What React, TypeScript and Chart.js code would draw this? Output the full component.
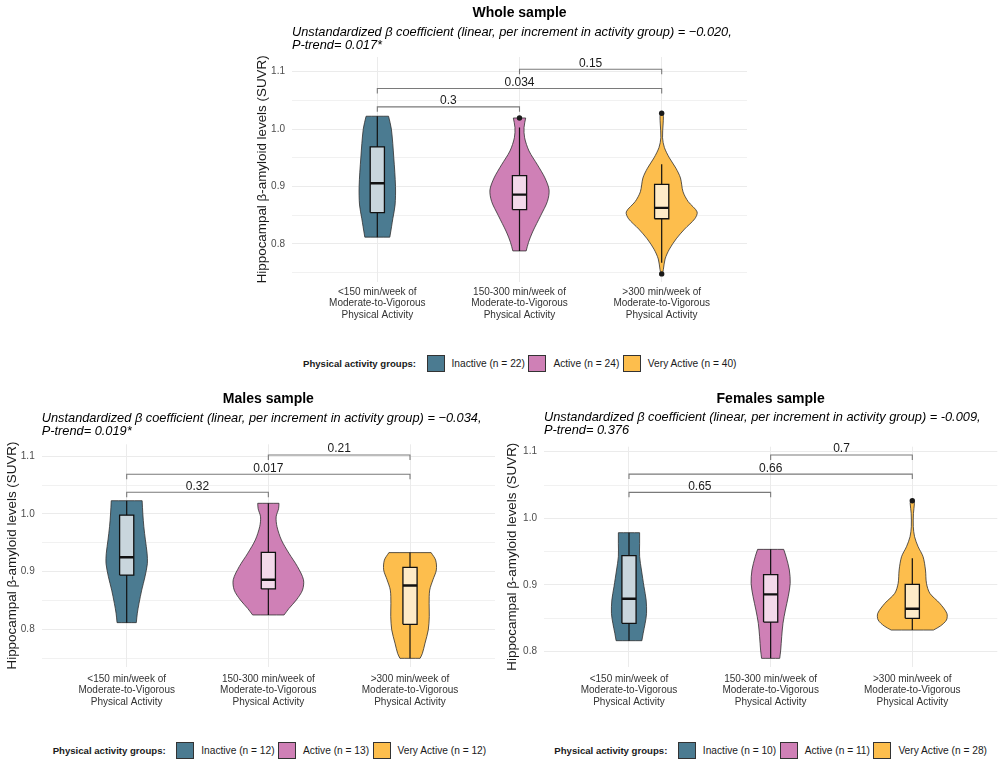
import React, { Fragment, useEffect, useRef } from 'react';
import { Chart, registerables } from 'chart.js';

Chart.register(...registerables);

const FONT = '"Liberation Sans", Arial, Helvetica, sans-serif';

// ---- shared categories, groups and axis ticks ----
const categoryPositions = [1, 2, 3];
const categoryLabels = [
  ['<150 min/week of', 'Moderate-to-Vigorous', 'Physical Activity'],
  ['150-300 min/week of', 'Moderate-to-Vigorous', 'Physical Activity'],
  ['>300 min/week of', 'Moderate-to-Vigorous', 'Physical Activity'],
];
const groupNames = ['Inactive', 'Active', 'Very Active'];
const groupFills = ['#4b7b91', '#cf80b6', '#fdbe4d'];
const boxFills = ['#c9d6dd', '#f3d9ea', '#feebc8'];

const yTickValues = [0.8, 0.9, 1.0, 1.1];
const yTickLabels = ['0.8', '0.9', '1.0', '1.1'];
const yMinorValues = [0.75, 0.85, 0.95, 1.05];
const yAxisTitle = 'Hippocampal β-amyloid levels (SUVR)';

const bracketPairs = [
  [1, 2],
  [1, 3],
  [2, 3],
];

// ---- Whole sample ----
const wholeCounts = [22, 24, 40];
const wholeInactiveLevels = [0.812, 0.83, 0.844, 0.868, 0.9, 0.95, 1.0, 1.0225];
const wholeInactiveWidths = [0.088, 0.1, 0.109, 0.125, 0.128, 0.116, 0.099, 0.079];
const wholeActiveLevels = [0.788, 0.803, 0.821, 0.85, 0.874, 0.894, 0.915, 0.938, 0.962, 0.985, 1.003, 1.0194];
const wholeActiveWidths = [0.047, 0.0635, 0.092, 0.15, 0.196, 0.208, 0.179, 0.126, 0.067, 0.036, 0.032, 0.0435];
const wholeVeryLevels = [0.748, 0.756, 0.774, 0.791, 0.809, 0.826, 0.844, 0.856, 0.874, 0.891, 0.915, 0.932, 0.95, 0.968, 0.985, 1.009, 1.022, 1.0276];
const wholeVeryWidths = [0.006, 0.012, 0.024, 0.054, 0.102, 0.161, 0.233, 0.249, 0.186, 0.15, 0.132, 0.1, 0.054, 0.019, 0.006, 0.01, 0.012, 0.008];
const wholeQ1 = [0.8547, 0.86, 0.844];
const wholeMedian = [0.9059, 0.886, 0.863];
const wholeQ3 = [0.969, 0.919, 0.904];
const wholeLow = [0.812, 0.788, 0.7676];
const wholeHigh = [1.0225, 1.003, 0.939];
const wholeOutlierGroups = [2, 3, 3];
const wholeOutlierValues = [1.0194, 1.0276, 0.748];
const wholeBracketLevels = [1.0388, 1.0708, 1.1043];
const wholeBracketLabels = ['0.3', '0.034', '0.15'];

// ---- Males sample ----
const malesCounts = [12, 13, 12];
const malesInactiveLevels = [0.8116, 0.828, 0.845, 0.868, 0.891, 0.914, 0.932, 0.955, 0.978, 1.0, 1.023];
const malesInactiveWidths = [0.068, 0.075, 0.087, 0.106, 0.129, 0.146, 0.144, 0.132, 0.121, 0.114, 0.109];
const malesActiveLevels = [0.8249, 0.836, 0.851, 0.868, 0.886, 0.909, 0.932, 0.955, 0.978, 0.995, 1.009, 1.0185];
const malesActiveWidths = [0.111, 0.145, 0.198, 0.241, 0.248, 0.205, 0.145, 0.092, 0.061, 0.055, 0.072, 0.075];
const malesVeryLevels = [0.7497, 0.758, 0.776, 0.799, 0.822, 0.845, 0.868, 0.886, 0.903, 0.92, 0.933];
const malesVeryWidths = [0.071, 0.087, 0.106, 0.129, 0.136, 0.135, 0.139, 0.162, 0.186, 0.181, 0.149];
const malesQ1 = [0.894, 0.87, 0.8087];
const malesMedian = [0.925, 0.886, 0.876];
const malesQ3 = [0.998, 0.9335, 0.9075];
const malesLow = [0.8116, 0.8249, 0.7497];
const malesHigh = [1.023, 1.0185, 0.933];
const malesOutlierGroups: number[] = [];
const malesOutlierValues: number[] = [];
const malesBracketLevels = [1.0376, 1.0688, 1.1023];
const malesBracketLabels = ['0.32', '0.017', '0.21'];

// ---- Females sample ----
const femalesCounts = [10, 11, 28];
const femalesInactiveLevels = [0.8165, 0.8275, 0.8425, 0.8575, 0.8775, 0.8975, 0.9225, 0.9425, 0.9625, 0.9785];
const femalesInactiveWidths = [0.091, 0.1, 0.114, 0.124, 0.121, 0.106, 0.088, 0.075, 0.075, 0.075];
const femalesActiveLevels = [0.79, 0.8025, 0.8225, 0.8425, 0.8625, 0.8825, 0.9025, 0.9225, 0.9425, 0.9535];
const femalesActiveWidths = [0.064, 0.071, 0.078, 0.087, 0.104, 0.124, 0.138, 0.132, 0.109, 0.092];
const femalesVeryLevels = [0.8325, 0.8385, 0.8475, 0.8575, 0.8725, 0.8875, 0.9025, 0.9225, 0.9425, 0.9575, 0.9725, 0.9875, 1.0075, 1.0225, 1.0265];
const femalesVeryWidths = [0.149, 0.198, 0.241, 0.244, 0.194, 0.124, 0.1, 0.093, 0.076, 0.041, 0.016, 0.007, 0.008, 0.015, 0.01];
const femalesQ1 = [0.8425, 0.8445, 0.85];
const femalesMedian = [0.8795, 0.886, 0.8645];
const femalesQ3 = [0.944, 0.9155, 0.901];
const femalesLow = [0.8165, 0.79, 0.8325];
const femalesHigh = [0.9785, 0.9535, 0.94];
const femalesOutlierGroups = [3];
const femalesOutlierValues = [1.0265];
const femalesBracketLevels = [1.039, 1.0664, 1.095];
const femalesBracketLabels = ['0.65', '0.66', '0.7'];

const BOX_HALF_WIDTH = 0.05;

type Frame = {
  left: number;
  top: number;
  width: number;
  height: number;
  yAxisWidth: number;
  xAxisHeight: number;
  padRight: number;
  padTop: number;
  xLabelPad: number;
  titleY: number;
  subtitleY: number;
};

type PanelSpec = {
  title: string;
  subtitle: string[];
  levels: number[][];
  widths: number[][];
  q1: number[];
  median: number[];
  q3: number[];
  low: number[];
  high: number[];
  outlierGroups: number[];
  outlierValues: number[];
  bracketLevels: number[];
  bracketLabels: string[];
  tip: number;
  yMin: number;
  yMax: number;
  frame: Frame;
};

const wholeSpec: PanelSpec = {
  title: 'Whole sample',
  subtitle: [
    'Unstandardized β coefficient (linear, per increment in activity group) = −0.020,',
    'P-trend= 0.017*',
  ],
  levels: [wholeInactiveLevels, wholeActiveLevels, wholeVeryLevels],
  widths: [wholeInactiveWidths, wholeActiveWidths, wholeVeryWidths],
  q1: wholeQ1,
  median: wholeMedian,
  q3: wholeQ3,
  low: wholeLow,
  high: wholeHigh,
  outlierGroups: wholeOutlierGroups,
  outlierValues: wholeOutlierValues,
  bracketLevels: wholeBracketLevels,
  bracketLabels: wholeBracketLabels,
  tip: 0.0087,
  yMin: 0.7344,
  yMax: 1.1256,
  frame: { left: 250, top: 0, width: 520, height: 335, yAxisWidth: 42, xAxisHeight: 53.3, padRight: 23, padTop: 57, xLabelPad: 5, titleY: 16.7, subtitleY: 36 },
};

const malesSpec: PanelSpec = {
  title: 'Males sample',
  subtitle: [
    'Unstandardized β coefficient (linear, per increment in activity group) = −0.034,',
    'P-trend= 0.019*',
  ],
  levels: [malesInactiveLevels, malesActiveLevels, malesVeryLevels],
  widths: [malesInactiveWidths, malesActiveWidths, malesVeryWidths],
  q1: malesQ1,
  median: malesMedian,
  q3: malesQ3,
  low: malesLow,
  high: malesHigh,
  outlierGroups: malesOutlierGroups,
  outlierValues: malesOutlierValues,
  bracketLevels: malesBracketLevels,
  bracketLabels: malesBracketLabels,
  tip: 0.0087,
  yMin: 0.7352,
  yMax: 1.1208,
  frame: { left: 0, top: 385, width: 500, height: 335, yAxisWidth: 41.7, xAxisHeight: 53.3, padRight: 5, padTop: 59.3, xLabelPad: 7, titleY: 18.3, subtitleY: 36.7 },
};

const femalesSpec: PanelSpec = {
  title: 'Females sample',
  subtitle: [
    'Unstandardized β coefficient (linear, per increment in activity group) = -0.009,',
    'P-trend= 0.376',
  ],
  levels: [femalesInactiveLevels, femalesActiveLevels, femalesVeryLevels],
  widths: [femalesInactiveWidths, femalesActiveWidths, femalesVeryWidths],
  q1: femalesQ1,
  median: femalesMedian,
  q3: femalesQ3,
  low: femalesLow,
  high: femalesHigh,
  outlierGroups: femalesOutlierGroups,
  outlierValues: femalesOutlierValues,
  bracketLevels: femalesBracketLevels,
  bracketLabels: femalesBracketLabels,
  tip: 0.0075,
  yMin: 0.7775,
  yMax: 1.1075,
  frame: { left: 500, top: 385, width: 504, height: 335, yAxisWidth: 44, xAxisHeight: 53.3, padRight: 6.7, padTop: 61.7, xLabelPad: 7, titleY: 18.3, subtitleY: 36 },
};

// Closed violin outline: left edge bottom->top, flat cap, right edge top->bottom, flat base.
// Every corner point is doubled so the smoothed outline keeps sharp cap corners.
function violinOutline(center: number, levels: number[], widths: number[]) {
  const n = levels.length;
  const pts: { x: number; y: number }[] = [];
  for (let i = 0; i < n; i++) pts.push({ x: center - widths[i], y: levels[i] });
  pts.push({ x: center - widths[n - 1], y: levels[n - 1] });
  pts.push({ x: center + widths[n - 1], y: levels[n - 1] });
  for (let i = n - 1; i >= 0; i--) pts.push({ x: center + widths[i], y: levels[i] });
  pts.push({ x: center + widths[0], y: levels[0] });
  pts.push({ x: center - widths[0], y: levels[0] });
  return pts;
}

function buildDatasets(spec: PanelSpec) {
  const datasets: any[] = [];
  categoryPositions.forEach((c, g) => {
    datasets.push({
      data: violinOutline(c, spec.levels[g], spec.widths[g]),
      showLine: true,
      fill: 'shape',
      backgroundColor: groupFills[g],
      borderColor: '#2e2e2e',
      borderWidth: 0.8,
      tension: 0.3,
      pointRadius: 0,
      order: 6,
    });
    datasets.push({
      data: [
        { x: c, y: spec.low[g] },
        { x: c, y: spec.high[g] },
      ],
      showLine: true,
      fill: false,
      borderColor: '#111111',
      borderWidth: 1.2,
      pointRadius: 0,
      order: 5,
    });
    const l = c - BOX_HALF_WIDTH;
    const r = c + BOX_HALF_WIDTH;
    datasets.push({
      data: [
        { x: l, y: spec.q1[g] },
        { x: r, y: spec.q1[g] },
        { x: r, y: spec.q3[g] },
        { x: l, y: spec.q3[g] },
        { x: l, y: spec.q1[g] },
      ],
      showLine: true,
      fill: 'shape',
      backgroundColor: boxFills[g],
      borderColor: '#111111',
      borderWidth: 1.3,
      borderJoinStyle: 'miter',
      tension: 0,
      pointRadius: 0,
      order: 4,
    });
    datasets.push({
      data: [
        { x: l, y: spec.median[g] },
        { x: r, y: spec.median[g] },
      ],
      showLine: true,
      fill: false,
      borderColor: '#111111',
      borderWidth: 2.4,
      pointRadius: 0,
      order: 3,
    });
  });
  if (spec.outlierGroups.length) {
    datasets.push({
      data: spec.outlierGroups.map((g, i) => ({ x: g, y: spec.outlierValues[i] })),
      showLine: false,
      pointRadius: 2.7,
      pointBackgroundColor: '#1a1a1a',
      pointBorderColor: '#1a1a1a',
      pointBorderWidth: 0,
      order: 2,
    });
  }
  bracketPairs.forEach(([a, b], i) => {
    const lv = spec.bracketLevels[i];
    datasets.push({
      data: [
        { x: a, y: lv - spec.tip },
        { x: a, y: lv },
        { x: b, y: lv },
        { x: b, y: lv - spec.tip },
      ],
      showLine: true,
      fill: false,
      borderColor: '#7a7a7a',
      borderWidth: 1.1,
      tension: 0,
      pointRadius: 0,
      order: 1,
    });
  });
  return datasets;
}

function buildConfig(spec: PanelSpec): any {
  const f = spec.frame;
  const textPlugin = {
    id: 'panelText',
    afterDatasetsDraw(chart: any) {
      const { ctx, chartArea, scales } = chart;
      ctx.save();
      ctx.fillStyle = '#1a1a1a';
      ctx.textBaseline = 'alphabetic';
      // p-value labels above each bracket
      ctx.font = `12px ${FONT}`;
      ctx.textAlign = 'center';
      bracketPairs.forEach(([a, b], i) => {
        const x = scales.x.getPixelForValue((a + b) / 2);
        const y = scales.y.getPixelForValue(spec.bracketLevels[i]) - 2.6;
        ctx.fillText(spec.bracketLabels[i], x, y);
      });
      // panel title and subtitle
      ctx.fillStyle = '#000000';
      ctx.font = `bold 14px ${FONT}`;
      ctx.fillText(spec.title, (chartArea.left + chartArea.right) / 2, f.titleY);
      ctx.font = `italic 12.8px ${FONT}`;
      ctx.textAlign = 'left';
      spec.subtitle.forEach((line, i) => {
        ctx.fillText(line, chartArea.left, f.subtitleY + i * 13.3);
      });
      ctx.restore();
    },
  };

  const gridValues = [...yMinorValues, ...yTickValues]
    .filter((v) => v >= spec.yMin && v <= spec.yMax)
    .sort((a, b) => a - b);

  return {
    type: 'scatter',
    data: { datasets: buildDatasets(spec) },
    plugins: [textPlugin],
    options: {
      responsive: false,
      animation: false,
      events: [],
      layout: { padding: { left: 0, right: f.padRight, top: f.padTop, bottom: 0 } },
      plugins: {
        legend: { display: false },
        tooltip: { enabled: false },
        title: { display: false },
      },
      scales: {
        x: {
          type: 'linear',
          min: 0.4,
          max: 3.6,
          afterBuildTicks: (axis: any) => {
            axis.ticks = categoryPositions.map((v) => ({ value: v }));
          },
          afterFit: (axis: any) => {
            axis.height = f.xAxisHeight;
          },
          ticks: {
            callback: (v: number) => categoryLabels[categoryPositions.indexOf(v)] ?? '',
            font: { family: FONT, size: 10, lineHeight: 1.13 },
            color: '#333333',
            padding: f.xLabelPad,
            maxRotation: 0,
            minRotation: 0,
            autoSkip: false,
          },
          grid: { color: '#ebebeb', lineWidth: 1, drawTicks: false },
          border: { display: false },
        },
        y: {
          type: 'linear',
          min: spec.yMin,
          max: spec.yMax,
          afterBuildTicks: (axis: any) => {
            axis.ticks = gridValues.map((v) => ({ value: v }));
          },
          afterFit: (axis: any) => {
            axis.width = f.yAxisWidth;
          },
          ticks: {
            callback: (v: number) => {
              const i = yTickValues.findIndex((t) => Math.abs(t - v) < 1e-9);
              return i >= 0 ? yTickLabels[i] : '';
            },
            font: { family: FONT, size: 10 },
            color: '#4d4d4d',
            padding: 7,
            autoSkip: false,
          },
          grid: {
            color: '#ebebeb',
            lineWidth: (c: any) =>
              c.tick && yTickValues.some((t) => Math.abs(t - c.tick.value) < 1e-9) ? 1.1 : 0.7,
            drawTicks: false,
          },
          border: { display: false },
          title: {
            display: true,
            text: yAxisTitle,
            font: { family: FONT, size: 13.4 },
            color: '#1a1a1a',
            padding: { top: 3.8, bottom: 0 },
          },
        },
      },
    },
  };
}

function Panel({ spec }: { spec: PanelSpec }) {
  const ref = useRef<HTMLCanvasElement>(null);
  useEffect(() => {
    if (!ref.current) return;
    const chart = new Chart(ref.current, buildConfig(spec));
    return () => chart.destroy();
  }, [spec]);
  const f = spec.frame;
  return (
    <canvas
      ref={ref}
      width={f.width}
      height={f.height}
      style={{ position: 'absolute', left: f.left, top: f.top, width: f.width, height: f.height, display: 'block' }}
    />
  );
}

function GroupLegend({ left, top, counts }: { left: number; top: number; counts: number[] }) {
  return (
    <div
      style={{
        position: 'absolute',
        left,
        top,
        height: 17,
        display: 'flex',
        alignItems: 'center',
        fontFamily: FONT,
        color: '#1a1a1a',
        whiteSpace: 'nowrap',
      }}
    >
      <span style={{ fontWeight: 'bold', fontSize: 9.6, marginRight: 10.5 }}>Physical activity groups:</span>
      {groupNames.map((name, i) => (
        <Fragment key={name}>
          <span
            style={{
              display: 'inline-block',
              width: 18,
              height: 17,
              boxSizing: 'border-box',
              border: '1px solid #333333',
              background: groupFills[i],
              marginRight: 7,
            }}
          />
          <span style={{ fontSize: 10.2, marginRight: 3.5 }}>{`${name} (n = ${counts[i]})`}</span>
        </Fragment>
      ))}
    </div>
  );
}

export default function App() {
  return (
    <div style={{ position: 'absolute', left: 0, top: 0, width: 1004, height: 772, background: '#ffffff', overflow: 'hidden' }}>
      <Panel spec={wholeSpec} />
      <Panel spec={malesSpec} />
      <Panel spec={femalesSpec} />
      <GroupLegend left={303} top={355} counts={wholeCounts} />
      <GroupLegend left={52.7} top={741.5} counts={malesCounts} />
      <GroupLegend left={554.3} top={741.5} counts={femalesCounts} />
    </div>
  );
}
